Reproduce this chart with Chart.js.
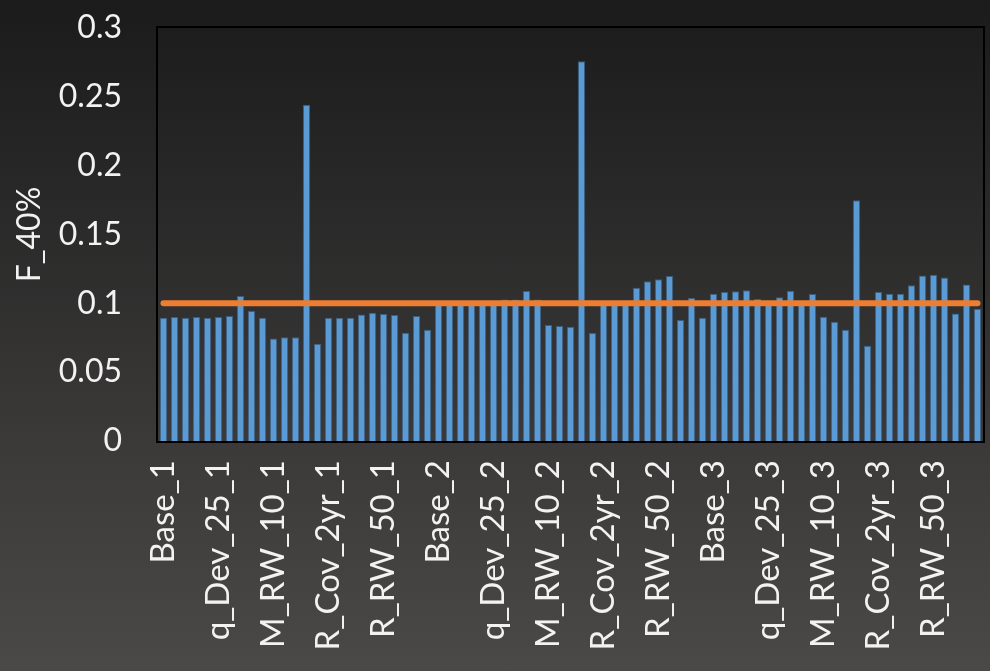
<!DOCTYPE html>
<html>
<head>
<meta charset="utf-8">
<script src="https://cdn.jsdelivr.net/npm/chart.js@4/dist/chart.umd.min.js"></script>
<style>
  html, body { margin: 0; padding: 0; }
  body { width: 990px; height: 671px; background: linear-gradient(#1b1b1b, #4b4948); overflow: hidden; }
  #c { display: block; }
</style>
</head>
<body>
<canvas id="c" width="990" height="671"></canvas>
<script>
// scenarios per run, only every 5th one gets a visible label
const scenarios = ['Base', '', '', '', '', 'q_Dev_25', '', '', '', '', 'M_RW_10', '', '', '', '',
                   'R_Cov_2yr', '', '', '', '', 'R_RW_50', '', '', '', ''];
const runs = ['1', '2', '3'];

// F_40% values, one array per run
const run1 = [0.0896, 0.0901, 0.0896, 0.0900, 0.0896, 0.0900, 0.0908, 0.1054, 0.0944, 0.0896,
              0.0745, 0.0753, 0.0753, 0.2442, 0.0707, 0.0896, 0.0896, 0.0896, 0.0918, 0.0932,
              0.0922, 0.0915, 0.0787, 0.0908, 0.0808];
const run2 = [0.0990, 0.0990, 0.0990, 0.1015, 0.0990, 0.0990, 0.1027, 0.1027, 0.1090, 0.1027,
              0.0842, 0.0835, 0.0830, 0.2758, 0.0784, 0.0990, 0.0990, 0.0990, 0.1114, 0.1160,
              0.1175, 0.1199, 0.0879, 0.1039, 0.0895];
const run3 = [0.1070, 0.1083, 0.1088, 0.1095, 0.1032, 0.0995, 0.1044, 0.1092, 0.0990, 0.1068,
              0.0903, 0.0867, 0.0808, 0.1748, 0.0692, 0.1083, 0.1070, 0.1070, 0.1131, 0.1202,
              0.1207, 0.1187, 0.0927, 0.1136, 0.0961];

const target = 0.1; // orange reference line
const yTicks = ['0', '0.05', '0.1', '0.15', '0.2', '0.25', '0.3'];

const labels = [];
runs.forEach(r => scenarios.forEach(s => labels.push(s ? s + '_' + r : '')));
const values = run1.concat(run2, run3);
const targetLine = values.map(() => target);

const FONT = { family: 'Lato, "Noto Sans", sans-serif', size: 32 };
const XFONT = { family: 'Lato, "Noto Sans", sans-serif', size: 33 };
const TXT = '#f2f2f2';

// black frame round the plot area
const frame = {
    id: 'frame',
    afterDatasetsDraw(chart) {
        const a = chart.chartArea;
        const ctx = chart.ctx;
        ctx.save();
        ctx.strokeStyle = '#000';
        ctx.lineWidth = 2;
        ctx.strokeRect(a.left - 1, a.top - 1, a.right - a.left + 2, a.bottom - a.top + 2);
        ctx.restore();
    }
};

new Chart(document.getElementById('c'), {
    data: {
        labels: labels,
        datasets: [
            {
                type: 'line',
                data: targetLine,
                borderColor: '#ED7D31',
                borderWidth: 6,
                borderCapStyle: 'round',
                pointRadius: 0,
                order: 0
            },
            {
                type: 'bar',
                data: values,
                backgroundColor: '#5B9BD5',
                borderColor: 'rgba(65,113,156,0.7)',
                borderWidth: 1,
                barPercentage: 0.68,
                categoryPercentage: 1,
                order: 1
            }
        ]
    },
    options: {
        responsive: false,
        animation: false,
        layout: { padding: { top: 28, right: 7, left: 0, bottom: 0 } },
        plugins: { legend: { display: false }, tooltip: { enabled: false } },
        scales: {
            x: {
                grid: { display: false, drawTicks: false },
                border: { display: false },
                ticks: {
                    color: TXT,
                    font: XFONT,
                    autoSkip: false,
                    minRotation: 90,
                    maxRotation: 90,
                    padding: 19,
                    callback: (v, i) => labels[i]
                },
                afterFit: s => { s.height = 230; s.paddingLeft = 0; s.paddingRight = 0; }
            },
            y: {
                min: 0,
                max: 0.3,
                grid: { display: false, drawTicks: false },
                border: { display: false },
                ticks: {
                    stepSize: 0.05,
                    color: TXT,
                    font: FONT,
                    padding: 36,
                    callback: (v, i) => yTicks[i]
                },
                title: {
                    display: true,
                    text: 'F_40%',
                    color: TXT,
                    font: FONT,
                    padding: { top: 10, bottom: 0 }
                },
                afterFit: s => { s.width = 158; s.paddingTop = 0; s.paddingBottom = 0; }
            }
        }
    },
    plugins: [frame]
});
</script>
</body>
</html>
